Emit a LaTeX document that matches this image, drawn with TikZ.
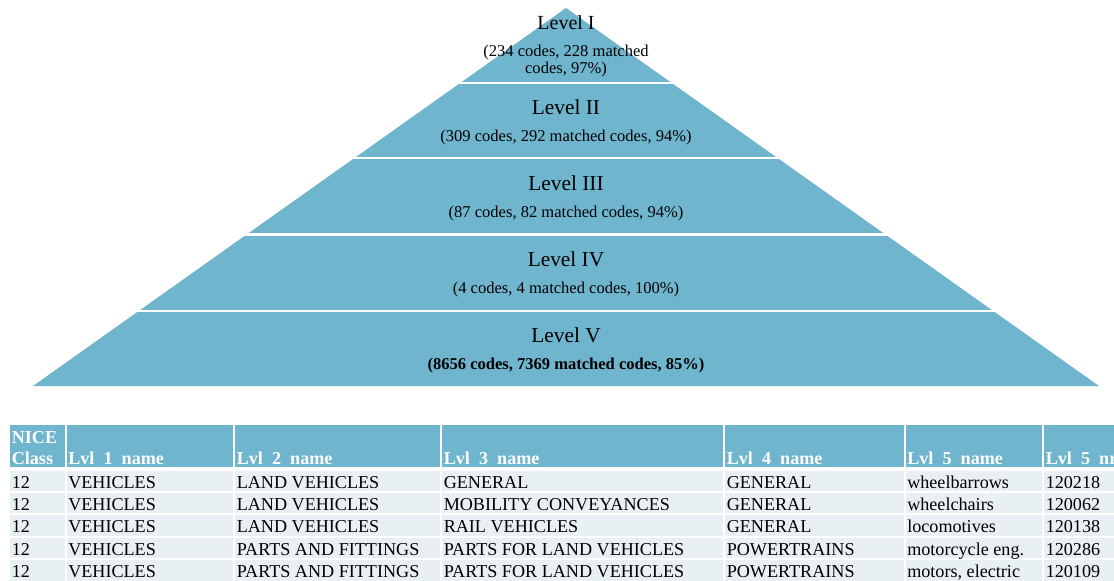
\documentclass[tikz,border=0pt]{standalone}
\usepackage{fontspec}
\setmainfont{Liberation Serif}
\definecolor{band}{RGB}{111,181,206}
\definecolor{row fill}{RGB}{233,240,244}
\newcommand\us{\hphantom{\_}}
\begin{document}
\begin{tikzpicture}[x=0.75pt,y=-0.75pt,
  level/.style={inner sep=0pt, font=\fontsize{16}{19}\selectfont},
  count/.style={inner sep=0pt, align=center, font=\fontsize{12.4}{12.75}\selectfont},
  gap/.style={draw=white, line width=1.9pt},
  thin gap/.style={draw=white, line width=1.5pt},
  cell/.style={anchor=base west, inner sep=0pt, font=\fontsize{13.6}{16}\selectfont},
  head/.style={cell, text=white, font=\fontsize{13.6}{16}\selectfont\bfseries}]

\def\pyramid{(33,386) -- (566,8) -- (1099,386) -- cycle}

\useasboundingbox (0,0) rectangle (1114,581);
\clip (0,0) rectangle (1114,581);

% pyramid
\fill[band] \pyramid;
\foreach \y in {83,158,234.5,311}
  \draw[gap] (0,\y) -- (1114,\y);

\node[level, font=\fontsize{15}{18}\selectfont] (lvl1) at (566,23) {Level I};
\node[count] (cnt1) at (566,61) {(234 codes, 228 matched\\codes, 97\%)};
\foreach \name/\txt [count=\i from 2] in {II/{(309 codes, 292 matched codes, 94\%)},
    III/{(87 codes, 82 matched codes, 94\%)},
    IV/{(4 codes, 4 matched codes, 100\%)},
    V/{\textbf{(8656 codes, 7369 matched codes, 85\%)}}}
{
  \node[level] (lvl\i) at (566,107+76*\i-152) {Level \name};
  \node[count] (cnt\i) at (566,138+76*\i-152) {\txt};
}

% table
\fill[band] (10,425) rectangle (1114,467);
\fill[row fill] (10,470.5) rectangle (1114,581);
\foreach \y in {492,514.4,536.8,559.2}
  \draw[thin gap] (10,\y) -- (1114,\y);
\foreach \x in {65.5,234,441,724,904.5,1043}
  \draw[thin gap] (\x,425) -- (\x,581);

\node[head] (nice) at (11.5,443) {NICE};
\node[head] (class) at (11.5,464) {Class};
\foreach \x/\txt [count=\j from 2] in {68/1\us name, 236.5/2\us name, 443.5/3\us name,
    726.5/4\us name, 907/5\us name, 1045.5/5\us nr}
  \node[head] (h\j) at (\x,464) {Lvl\us\txt};

\foreach \r/\a/\b/\c/\d/\e/\f in {
    1/VEHICLES/LAND VEHICLES/GENERAL/GENERAL/wheelbarrows/120218,
    2/VEHICLES/LAND VEHICLES/MOBILITY CONVEYANCES/GENERAL/wheelchairs/120062,
    3/VEHICLES/LAND VEHICLES/RAIL VEHICLES/GENERAL/locomotives/120138,
    4/VEHICLES/PARTS AND FITTINGS/PARTS FOR LAND VEHICLES/POWERTRAINS/motorcycle eng./120286,
    5/VEHICLES/PARTS AND FITTINGS/PARTS FOR LAND VEHICLES/POWERTRAINS/{motors, electric}/120109}
{
  \pgfmathsetmacro\y{488+22.4*(\r-1)}
  \node[cell] (r\r c1) at (11.5,\y) {12};
  \node[cell] (r\r c2) at (68,\y) {\a};
  \node[cell] (r\r c3) at (236.5,\y) {\b};
  \node[cell] (r\r c4) at (443.5,\y) {\c};
  \node[cell] (r\r c5) at (726.5,\y) {\d};
  \node[cell] (r\r c6) at (907,\y) {\e};
  \node[cell] (r\r c7) at (1045.5,\y) {\f};
}
\end{tikzpicture}
\end{document}
